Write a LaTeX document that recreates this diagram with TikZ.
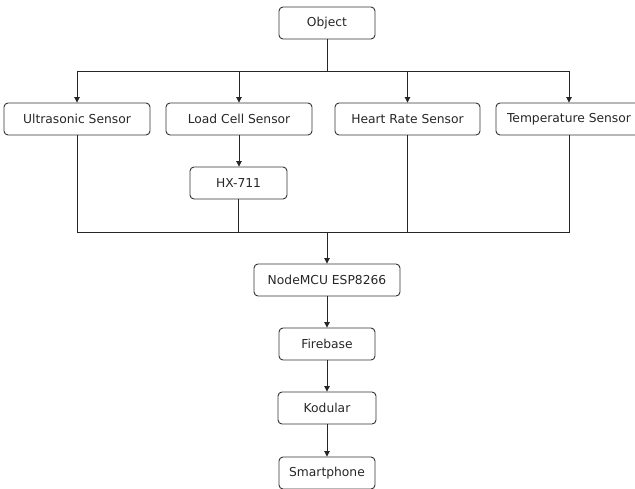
\documentclass[tikz,border=0pt]{standalone}
\usepackage{fontspec}
\setmainfont{DejaVu Sans}
\usetikzlibrary{arrows.meta}
\begin{document}
\begin{tikzpicture}[x=1pt,y=-1pt,
  box/.style={draw=black!80,rounded corners=4pt,line width=0.9pt,minimum height=32pt,inner sep=0pt,font=\fontsize{12.3}{14}\selectfont,text=black!85},
  conn/.style={draw=black!85,line width=0.9pt},
  arr/.style={conn,-{Triangle[width=5.5pt,length=5.5pt]}}]
\useasboundingbox (0,0) rectangle (635,488);
\node[box,minimum width=96pt] (obj) at (327,23) {Object};
\node[box,minimum width=146pt] (us) at (77,119) {Ultrasonic Sensor};
\node[box,minimum width=146pt] (lc) at (239,119) {Load Cell Sensor};
\node[box,minimum width=97pt] (hx) at (238.5,183) {HX-711};
\node[box,minimum width=145pt] (hr) at (407.5,119) {Heart Rate Sensor};
\node[box,minimum width=146pt] (ts) at (569,119) {Temperature Sensor};
\node[box,minimum width=146pt] (mcu) at (327,280) {NodeMCU ESP8266};
\node[box,minimum width=96pt] (fb) at (327,344) {Firebase};
\node[box,minimum width=98pt] (ko) at (327,408) {Kodular};
\node[box,minimum width=96pt] (sp) at (327,473) {Smartphone};
\coordinate (top) at (327,71);
\coordinate (bot) at (327,232);
\draw[conn] (obj.south) -- (top);
\draw[conn] (us.north |- top) -- (ts.north |- top);
\draw[arr] (us.north |- top) -- (us.north);
\draw[arr] (lc.north |- top) -- (lc.north);
\draw[arr] (hr.north |- top) -- (hr.north);
\draw[arr] (ts.north |- top) -- (ts.north);
\draw[arr] (lc.south) -- (lc.south |- hx.north);
\draw[conn] (us.south) -- (us.south |- bot) -- (ts.south |- bot) -- (ts.south);
\draw[conn] (hx.south) -- (hx.south |- bot);
\draw[conn] (hr.south) -- (hr.south |- bot);
\draw[arr] (bot) -- (mcu.north);
\draw[arr] (mcu.south) -- (fb.north);
\draw[arr] (fb.south) -- (ko.north);
\draw[arr] (ko.south) -- (sp.north);
\end{tikzpicture}
\end{document}
